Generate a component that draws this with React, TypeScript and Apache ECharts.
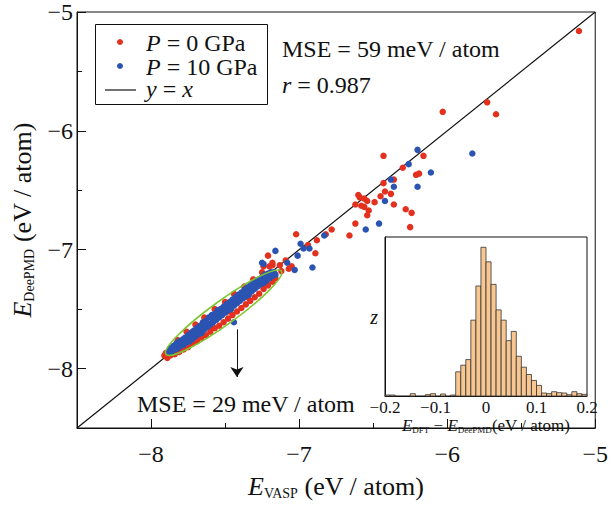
import React, { useEffect, useRef } from 'react';
import * as echarts from 'echarts';

const FONT = 'Liberation Serif';

const xMajorTicks = [-8, -7, -6, -5];
const xMinorTicks = [-7.5, -6.5, -5.5];
const yMajorTicks = [-8, -7, -6, -5];
const yMinorTicks = [-7.5, -6.5, -5.5];

const diagonal = [[-8.5, -8.5], [-5, -5]];

const redPoints = [
  [-5.11, -5.16], [-5.73, -5.76], [-5.67, -5.86], [-6.03, -5.84], [-6.16, -6.21], [-6.43, -6.21],
  [-6.30, -6.31], [-6.21, -6.37], [-6.19, -6.36], [-6.36, -6.41], [-6.43, -6.44], [-6.42, -6.51],
  [-6.38, -6.53], [-6.45, -6.55], [-6.59, -6.56], [-6.54, -6.59], [-6.49, -6.60], [-6.62, -6.62],
  [-6.58, -6.63], [-6.56, -6.64], [-6.53, -6.67], [-6.54, -6.71], [-6.36, -6.62], [-6.28, -6.66],
  [-6.24, -6.69], [-6.25, -6.81], [-6.62, -6.78], [-6.66, -6.88], [-6.78, -6.83], [-6.82, -6.87],
  [-6.60, -6.54], [-6.56, -6.57],
  [-7.02, -6.87], [-7.21, -7.05], [-6.94, -6.96], [-6.89, -7.03], [-7.09, -7.09], [-7.18, -7.13],
  [-7.13, -7.13], [-7.05, -7.14], [-7.07, -7.16], [-7.12, -7.18], [-7.24, -7.14], [-6.88, -6.92],
  [-7.18, -7.11],
  [-7.91, -7.89], [-7.90, -7.87], [-7.89, -7.91], [-7.87, -7.89], [-7.84, -7.88], [-7.81, -7.86],
  [-7.78, -7.84], [-7.75, -7.82], [-7.72, -7.79], [-7.69, -7.77], [-7.66, -7.74], [-7.63, -7.72],
  [-7.60, -7.69], [-7.57, -7.66], [-7.54, -7.64], [-7.51, -7.61], [-7.48, -7.58], [-7.45, -7.55],
  [-7.42, -7.52], [-7.39, -7.49], [-7.36, -7.46], [-7.33, -7.43], [-7.30, -7.40], [-7.27, -7.37],
  [-7.24, -7.33], [-7.21, -7.30], [-7.18, -7.27], [-7.16, -7.24],
  [-7.82, -7.76], [-7.76, -7.69], [-7.70, -7.63], [-7.64, -7.57], [-7.57, -7.50], [-7.50, -7.44],
  [-7.44, -7.37], [-7.37, -7.31], [-7.31, -7.25], [-7.25, -7.19], [-7.20, -7.14],
  [-7.60, -7.65], [-7.48, -7.52], [-7.35, -7.40], [-7.68, -7.72],
];

const bluePoints = [
  [-6.20, -6.16], [-6.26, -6.28], [-6.11, -6.35], [-6.38, -6.41], [-6.36, -6.47], [-6.20, -6.47],
  [-6.42, -6.59], [-6.46, -6.78], [-6.55, -6.83], [-6.83, -6.88], [-5.83, -6.19],
  [-7.16, -7.01], [-6.99, -6.95], [-6.97, -6.99], [-6.93, -6.99], [-7.01, -7.05], [-7.08, -7.11],
  [-7.03, -7.17], [-7.24, -7.12], [-6.91, -7.15], [-7.25, -7.11], [-7.44, -7.61],
  [-7.88, -7.86], [-7.87, -7.83], [-7.86, -7.86], [-7.85, -7.81], [-7.84, -7.84], [-7.83, -7.79],
  [-7.82, -7.83], [-7.81, -7.77], [-7.80, -7.81], [-7.79, -7.76], [-7.78, -7.80], [-7.77, -7.74],
  [-7.76, -7.78], [-7.75, -7.72], [-7.74, -7.77], [-7.73, -7.70], [-7.72, -7.75], [-7.71, -7.68],
  [-7.70, -7.73], [-7.69, -7.66], [-7.68, -7.71], [-7.67, -7.64], [-7.66, -7.70], [-7.65, -7.61],
  [-7.64, -7.67], [-7.63, -7.60], [-7.62, -7.65], [-7.61, -7.57], [-7.60, -7.63], [-7.59, -7.55],
  [-7.58, -7.61], [-7.57, -7.54], [-7.56, -7.59], [-7.55, -7.51], [-7.54, -7.57], [-7.53, -7.50],
  [-7.52, -7.55], [-7.51, -7.48], [-7.50, -7.53], [-7.49, -7.46], [-7.48, -7.51], [-7.47, -7.44],
  [-7.46, -7.50], [-7.45, -7.42], [-7.44, -7.47], [-7.43, -7.40], [-7.42, -7.45], [-7.41, -7.38],
  [-7.40, -7.43], [-7.39, -7.36], [-7.38, -7.41], [-7.37, -7.34], [-7.36, -7.39], [-7.35, -7.32],
  [-7.34, -7.38], [-7.33, -7.30], [-7.32, -7.35], [-7.31, -7.28], [-7.30, -7.33], [-7.29, -7.26],
  [-7.28, -7.31], [-7.27, -7.25], [-7.26, -7.29], [-7.25, -7.23], [-7.24, -7.28], [-7.23, -7.21],
  [-7.22, -7.26], [-7.21, -7.20], [-7.20, -7.24], [-7.19, -7.19], [-7.18, -7.22], [-7.17, -7.19],
  [-7.16, -7.21],
  [-7.80, -7.79], [-7.70, -7.70], [-7.62, -7.62], [-7.55, -7.54], [-7.47, -7.47], [-7.40, -7.40],
  [-7.33, -7.33], [-7.26, -7.26], [-7.74, -7.74], [-7.66, -7.66], [-7.58, -7.58], [-7.51, -7.51],
  [-7.44, -7.44], [-7.37, -7.37], [-7.30, -7.30], [-7.23, -7.23],
  [-7.78, -7.75], [-7.72, -7.69], [-7.64, -7.62], [-7.57, -7.56], [-7.49, -7.49], [-7.42, -7.41],
  [-7.35, -7.35], [-7.28, -7.28], [-7.21, -7.22],
];

const histBinStart = [
  -0.2, -0.19, -0.15, -0.12, -0.11, -0.09, -0.07, -0.06, -0.05, -0.04, -0.03, -0.02, -0.01,
  0.0, 0.01, 0.02, 0.03, 0.04, 0.05, 0.06, 0.07, 0.08, 0.09, 0.1, 0.11, 0.12, 0.13, 0.14,
  0.15, 0.16, 0.17, 0.18, 0.19,
];
const histCounts = [
  0.6, 0.6, 1.4, 0.8, 1.4, 1.2, 0.6, 14.6, 18.6, 22, 45.8, 66.4, 89.8,
  81, 67.4, 52, 45.8, 33.4, 39, 24, 17.4, 13, 9.4, 6.4, 1.8, 1.4, 2.6, 2,
  1.8, 0.8, 2.6, 1.4, 1,
];
const histBinWidth = 0.01;
const insetTicks = [-0.2, -0.1, 0, 0.1, 0.2];

const ellipseEnds = [[-7.90, -7.88], [-7.12, -7.18]];
const arrowX = -7.42;
const arrowY = [-7.67, -8.07];

const RED = '#e3301f';
const BLUE = '#2b54b2';

const minus = (v: number) => String(v).replace('-', '\u2212');

export default function App() {
  const ref = useRef<HTMLDivElement>(null);
  useEffect(() => {
    const chart = echarts.init(ref.current!, undefined, { renderer: 'svg' });
    const black = '#111';
    const tickLabel = { fontFamily: FONT, fontSize: 24, color: black };
    const option: any = {
      animation: false,
      backgroundColor: '#fff',
      textStyle: { fontFamily: FONT },
      grid: [
        { left: 77, top: 12, width: 521, height: 419, show: true, borderColor: black, borderWidth: 1, backgroundColor: 'transparent' },
        { left: 385, top: 237, width: 202, height: 159, show: true, borderColor: black, borderWidth: 1, backgroundColor: '#fff', z: 5 },
      ],
      xAxis: [
        {
          gridIndex: 0, type: 'value', min: -8.5, max: -5, position: 'bottom',
          axisLine: { lineStyle: { color: black, width: 1 } },
          axisTick: { inside: true, length: 9, customValues: xMajorTicks, lineStyle: { color: black } },
          axisLabel: { ...tickLabel, customValues: xMajorTicks, formatter: minus, margin: 14 },
          splitLine: { show: false },
          name: '{e|E}{s|VASP}{n| (eV / atom)}', nameLocation: 'middle', nameGap: 44,
          nameTextStyle: {
            fontFamily: FONT,
            rich: {
              e: { fontFamily: FONT, fontSize: 26, fontStyle: 'italic', color: black, lineHeight: 28, verticalAlign: 'middle' },
              s: { fontFamily: FONT, fontSize: 14, color: black, lineHeight: 14, verticalAlign: 'bottom' },
              n: { fontFamily: FONT, fontSize: 26, color: black, lineHeight: 28, verticalAlign: 'middle' },
            },
          },
        },
        {
          gridIndex: 0, type: 'value', min: -8.5, max: -5, position: 'bottom',
          axisLine: { show: false },
          axisTick: { inside: true, length: 5, customValues: xMinorTicks, lineStyle: { color: black } },
          axisLabel: { show: false },
          splitLine: { show: false },
        },
        {
          gridIndex: 1, type: 'value', min: -0.2, max: 0.2, interval: 0.1, position: 'bottom',
          axisLine: { onZero: false, lineStyle: { color: black } },
          axisTick: { show: false },
          axisLabel: { fontFamily: FONT, fontSize: 17, color: black, margin: 3, formatter: minus, showMinLabel: true, showMaxLabel: true, customValues: insetTicks },
          splitLine: { show: false },
          name: '{e|E}{s|DFT}{n| \u2212 }{e|E}{s|DeePMD}{n|(eV / atom)}', nameLocation: 'middle', nameGap: 17,
          nameTextStyle: {
            fontFamily: FONT,
            rich: {
              e: { fontFamily: FONT, fontSize: 17, fontStyle: 'italic', color: black, lineHeight: 18, verticalAlign: 'middle' },
              s: { fontFamily: FONT, fontSize: 9, color: black, lineHeight: 9, verticalAlign: 'bottom' },
              n: { fontFamily: FONT, fontSize: 17, color: black, lineHeight: 18, verticalAlign: 'middle' },
            },
          },
          z: 6,
        },
      ],
      yAxis: [
        {
          gridIndex: 0, type: 'value', min: -8.5, max: -5, position: 'left',
          axisLine: { onZero: false, lineStyle: { color: black, width: 1 } },
          axisTick: { inside: true, length: 9, customValues: yMajorTicks, lineStyle: { color: black } },
          axisLabel: { ...tickLabel, customValues: yMajorTicks, formatter: minus, margin: 4 },
          splitLine: { show: false },
          name: '{e|E}{s|DeePMD}{n| (eV / atom)}', nameLocation: 'middle', nameGap: 38,
          nameTextStyle: {
            fontFamily: FONT,
            rich: {
              e: { fontFamily: FONT, fontSize: 26, fontStyle: 'italic', color: black, lineHeight: 28, verticalAlign: 'middle' },
              s: { fontFamily: FONT, fontSize: 14, color: black, lineHeight: 14, verticalAlign: 'bottom' },
              n: { fontFamily: FONT, fontSize: 26, color: black, lineHeight: 28, verticalAlign: 'middle' },
            },
          },
        },
        {
          gridIndex: 0, type: 'value', min: -8.5, max: -5, position: 'left',
          axisLine: { show: false, onZero: false },
          axisTick: { inside: true, length: 5, customValues: yMinorTicks, lineStyle: { color: black } },
          axisLabel: { show: false },
          splitLine: { show: false },
        },
        {
          gridIndex: 1, type: 'value', min: 0, max: 96, position: 'left',
          axisLine: { onZero: false, lineStyle: { color: black } },
          axisTick: { show: false },
          axisLabel: { show: false },
          splitLine: { show: false },
          name: 'z', nameLocation: 'middle', nameGap: 7, nameRotate: 0,
          nameTextStyle: { fontFamily: FONT, fontSize: 20, fontStyle: 'italic', color: black, align: 'right' },
          z: 6,
        },
      ],
      series: [
        {
          type: 'line', xAxisIndex: 0, yAxisIndex: 0, data: diagonal, symbol: 'none',
          lineStyle: { color: black, width: 1.2 }, silent: true, z: 2,
          markLine: {
            silent: true, symbol: ['none', 'arrow'], symbolSize: 10,
            lineStyle: { color: black, width: 1, type: 'solid' }, label: { show: false },
            data: [[{ coord: [arrowX, arrowY[0]] }, { coord: [arrowX, arrowY[1]] }]],
          },
        },
        {
          name: 'P = 0 GPa', type: 'scatter', xAxisIndex: 0, yAxisIndex: 0, data: redPoints,
          symbolSize: 6.5, itemStyle: { color: RED, opacity: 1 }, z: 3,
        },
        {
          name: 'P = 10 GPa', type: 'scatter', xAxisIndex: 0, yAxisIndex: 0, data: bluePoints,
          symbolSize: 6.5, itemStyle: { color: BLUE, opacity: 1 }, z: 4,
        },
        {
          type: 'custom', xAxisIndex: 2, yAxisIndex: 2, z: 7,
          data: histBinStart.map((b, i) => [b, histCounts[i]]),
          encode: { x: 0, y: 1 },
          renderItem: (params: any, api: any) => {
            const x0 = api.value(0);
            const h = api.value(1);
            const p0 = api.coord([x0, 0]);
            const p1 = api.coord([x0 + histBinWidth, h]);
            return {
              type: 'rect',
              shape: { x: p0[0], y: p1[1], width: p1[0] - p0[0], height: p0[1] - p1[1] },
              style: { fill: '#f8c690', stroke: '#333', lineWidth: 0.8 },
            };
          },
        },
      ],
    };
    chart.setOption(option);

    const a = chart.convertToPixel({ xAxisIndex: 0, yAxisIndex: 0 }, ellipseEnds[0]) as number[];
    const b = chart.convertToPixel({ xAxisIndex: 0, yAxisIndex: 0 }, ellipseEnds[1]) as number[];
    const cx = (a[0] + b[0]) / 2;
    const cy = (a[1] + b[1]) / 2;
    const rx = Math.hypot(b[0] - a[0], b[1] - a[1]) / 2;
    const rot = Math.atan2(a[1] - b[1], b[0] - a[0]);

    const txt = (x: number, y: number, text: string, rich: any, size = 24) => ({
      type: 'text', x, y, z: 20,
      style: {
        text, fontFamily: FONT, fontSize: size, fill: black,
        verticalAlign: 'middle', align: 'left', lineHeight: 20, rich,
      },
    });
    const it = {
      i: { fontFamily: FONT, fontSize: 24, fontStyle: 'italic', fill: black, lineHeight: 20 },
      n: { fontFamily: FONT, fontSize: 24, fill: black, lineHeight: 20 },
    };

    chart.setOption({
      graphic: [
        {
          type: 'ellipse', x: cx, y: cy, rotation: rot, z: 10, silent: true,
          shape: { cx: 0, cy: 0, rx, ry: 12 },
          style: { fill: 'none', stroke: '#7cc72f', lineWidth: 1.6 },
        },
        {
          type: 'rect', z: 15, shape: { x: 95.5, y: 24.5, width: 172, height: 80 },
          style: { fill: '#fff', stroke: black, lineWidth: 1 },
        },
        { type: 'circle', z: 16, shape: { cx: 120, cy: 42, r: 3 }, style: { fill: RED } },
        { type: 'circle', z: 16, shape: { cx: 120, cy: 66, r: 3 }, style: { fill: BLUE } },
        { type: 'line', z: 16, shape: { x1: 105, y1: 90, x2: 136, y2: 90 }, style: { stroke: black, lineWidth: 1.2 } },
        txt(146, 43, '{i|P}{n| = 0 GPa}', it),
        txt(146, 67, '{i|P}{n| = 10 GPa}', it),
        txt(146, 89, '{i|y}{n| = }{i|x}', it),
        txt(282, 49, 'MSE = 59 meV / atom', it),
        txt(282, 85, '{i|r}{n| = 0.987}', it),
        txt(137, 404, 'MSE = 29 meV / atom', it),
      ],
    });

    return () => chart.dispose();
  }, []);
  return <div ref={ref} style={{ position: 'absolute', left: 0, top: 0, width: 611, height: 505 }} />;
}
